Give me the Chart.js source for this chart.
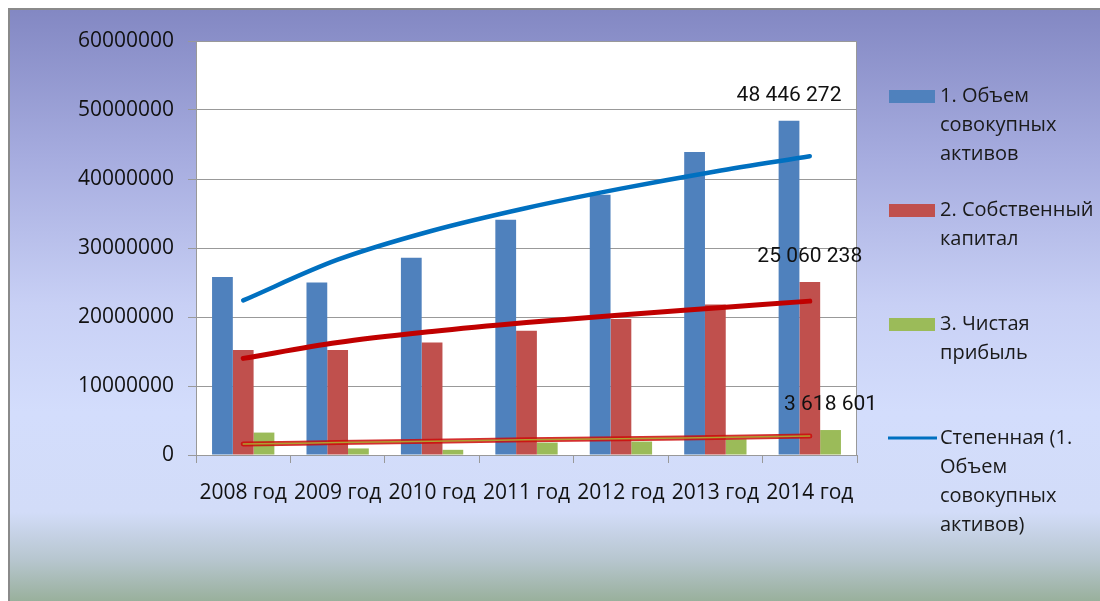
<!DOCTYPE html>
<html lang="ru">
<head>
  <meta charset="UTF-8">
  <title>Активы, капитал и прибыль 2008-2014</title>
  <script src="https://cdn.jsdelivr.net/npm/chart.js"></script>
  <style>
    body { margin: 0; background: #fff; }
  </style>
</head>
<body>
  <canvas id="finChart" width="1100" height="601"></canvas>

  <script>
    // категории и значения
    const years = ["2008 год", "2009 год", "2010 год", "2011 год", "2012 год", "2013 год", "2014 год"];
    const totalAssets = [25800000, 25000000, 28600000, 34100000, 37700000, 43900000, 48446272];
    const equity = [15200000, 15200000, 16300000, 18000000, 19700000, 21800000, 25060238];
    const netProfit = [3250000, 950000, 750000, 1800000, 1950000, 2300000, 3618601];

    // линии тренда (по точкам в центрах категорий)
    const assetsTrend = [22400000, 28300000, 32500000, 35800000, 38600000, 41100000, 43300000];
    const equityTrend = [14000000, 16300000, 17900000, 19200000, 20300000, 21300000, 22300000];
    const profitTrend = [1600000, 1800000, 2000000, 2200000, 2350000, 2550000, 2750000];

    const yMax = 60000000;
    const yStep = 10000000;

    // подписи легенды по строкам
    const legendItems = [
      { lines: ["1. Объем", "совокупных", "активов"], color: "#4F81BD", kind: "box", y: 96 },
      { lines: ["2. Собственный", "капитал"], color: "#C0504D", kind: "box", y: 210 },
      { lines: ["3. Чистая", "прибыль"], color: "#9BBB59", kind: "box", y: 324 },
      { lines: ["Степенная (1.", "Объем", "совокупных", "активов)"], color: "#0070C0", kind: "line", y: 438 }
    ];

    const FONT = "'Open Sans', sans-serif";

    function fmtSpaces(v) {
      return String(v).replace(/\B(?=(\d{3})+(?!\d))/g, " ");
    }

    const backdrop = {
      id: "backdrop",
      beforeDraw(chart) {
        const ctx = chart.ctx;
        const W = chart.width, H = chart.height;
        ctx.save();
        ctx.fillStyle = "#fff";
        ctx.fillRect(0, 0, W, H);
        const g = ctx.createLinearGradient(0, 10, 0, H);
        g.addColorStop(0, "#8388C3");
        g.addColorStop(0.25, "#A6ACDF");
        g.addColorStop(0.5, "#C8D0F5");
        g.addColorStop(0.68, "#D3DDFC");
        g.addColorStop(0.85, "#D2DCF8");
        g.addColorStop(0.93, "#B7C6CF");
        g.addColorStop(1, "#99B09C");
        ctx.fillStyle = g;
        ctx.fillRect(10, 10, W - 10, H - 10);
        ctx.strokeStyle = "#8a8a8a";
        ctx.lineWidth = 2;
        ctx.beginPath();
        ctx.moveTo(9, H);
        ctx.lineTo(9, 9);
        ctx.lineTo(W, 9);
        ctx.stroke();
        const a = chart.chartArea;
        ctx.fillStyle = "#fff";
        ctx.fillRect(a.left, a.top, a.right - a.left, a.bottom - a.top);
        ctx.restore();
      },
      afterDraw(chart) {
        const ctx = chart.ctx;
        const a = chart.chartArea;
        ctx.save();
        // правая граница области построения
        ctx.strokeStyle = "#999";
        ctx.lineWidth = 1;
        ctx.beginPath();
        ctx.moveTo(a.right - 0.5, a.top);
        ctx.lineTo(a.right - 0.5, a.bottom);
        ctx.stroke();

        // подписи последних столбцов
        ctx.fillStyle = "#111";
        ctx.font = "21px Roboto, sans-serif";
        ctx.textAlign = "center";
        ctx.textBaseline = "middle";
        [0, 1, 2].forEach(i => {
          const bar = chart.getDatasetMeta(i).data[6];
          const v = chart.data.datasets[i].data[6];
          ctx.fillText(fmtSpaces(v), bar.x, bar.y - 25);
        });

        // легенда
        ctx.font = "20px " + FONT;
        ctx.textAlign = "left";
        legendItems.forEach(it => {
          if (it.kind === "box") {
            ctx.fillStyle = it.color;
            ctx.fillRect(889, it.y - 6, 46, 13);
          } else {
            ctx.strokeStyle = it.color;
            ctx.lineWidth = 3;
            ctx.beginPath();
            ctx.moveTo(888, it.y);
            ctx.lineTo(937, it.y);
            ctx.stroke();
          }
          ctx.fillStyle = "#1a1a1a";
          it.lines.forEach((t, k) => ctx.fillText(t, 940, it.y + k * 29));
        });
        ctx.restore();
      }
    };

    const trendBase = {
      type: "line",
      pointRadius: 0,
      cubicInterpolationMode: "monotone",
      borderCapStyle: "round",
      fill: false,
      order: 0
    };

    new Chart(document.getElementById("finChart").getContext("2d"), {
      data: {
        labels: years,
        datasets: [
          { type: "bar", label: "1. Объем совокупных активов", data: totalAssets, backgroundColor: "#4F81BD", order: 10 },
          { type: "bar", label: "2. Собственный капитал", data: equity, backgroundColor: "#C0504D", order: 10 },
          { type: "bar", label: "3. Чистая прибыль", data: netProfit, backgroundColor: "#9BBB59", order: 10 },
          Object.assign({}, trendBase, { label: "Степенная (1. Объем совокупных активов)", data: assetsTrend, borderColor: "#0070C0", borderWidth: 4.5 }),
          Object.assign({}, trendBase, { label: "тренд капитал", data: equityTrend, borderColor: "#C00000", borderWidth: 5 }),
          Object.assign({}, trendBase, { label: "тренд прибыль", data: profitTrend, borderColor: "rgba(205,10,10,0.85)", borderWidth: 5 }),
          Object.assign({}, trendBase, { label: "тренд прибыль 2", data: profitTrend, borderColor: "#B0A030", borderWidth: 1.5, order: -1 })
        ]
      },
      options: {
        responsive: false,
        animation: false,
        devicePixelRatio: 1,
        layout: { padding: { top: 41, right: 243, bottom: 0, left: 0 } },
        datasets: {
          bar: { categoryPercentage: 0.66, barPercentage: 1.0 }
        },
        plugins: {
          legend: { display: false },
          tooltip: { enabled: false }
        },
        scales: {
          x: {
            afterFit(s) { s.height = 146; },
            grid: { drawOnChartArea: false, drawTicks: true, tickLength: 8, color: "#999", offset: true },
            border: { color: "#999" },
            ticks: { color: "#111", font: { family: FONT, size: 21 }, padding: 17, maxRotation: 0, autoSkip: false }
          },
          y: {
            min: 0,
            max: yMax,
            afterFit(s) { s.width = 196; },
            grid: { color: "#999", tickLength: 8 },
            border: { color: "#999" },
            ticks: {
              stepSize: yStep,
              color: "#111",
              padding: 14,
              font: { family: FONT, size: 21 },
              callback: v => String(v)
            }
          }
        }
      },
      plugins: [backdrop]
    });
  </script>
</body>
</html>
